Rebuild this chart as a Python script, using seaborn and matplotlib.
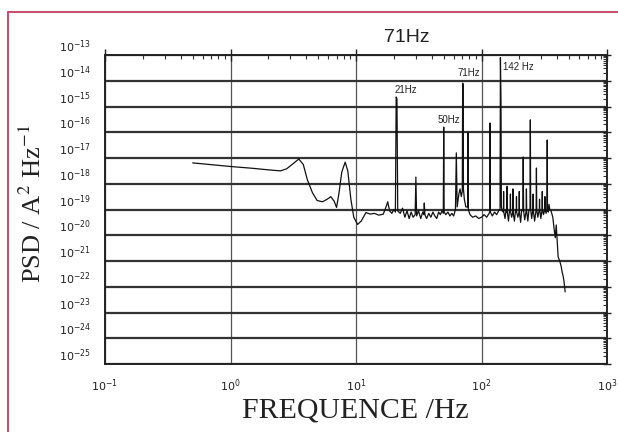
import numpy as np
import matplotlib
matplotlib.use("Agg")
import matplotlib.pyplot as plt
from matplotlib.lines import Line2D
from matplotlib.ticker import LogLocator, NullFormatter
import seaborn as sns

# Power spectral density trace: frequency (Hz) and log10 of PSD (A^2/Hz)
freq = [
    0.5, 0.7, 1.0, 1.5, 2.0, 2.5, 2.8, 3.1, 3.5, 3.8, 4.1, 4.5, 4.9, 5.4, 5.9,
    6.3, 6.7, 7.0, 7.3, 7.7, 8.2, 8.6, 9.1, 9.6, 10.3, 11.0, 12.0, 13.0, 14.0,
    15.2, 16.5, 17.2, 17.9, 18.5, 19.3, 20.0, 20.6, 20.9, 21.2, 21.5, 22.5,
    23.5, 24.5, 25.5, 26.5, 27.5, 28.5, 29.6, 30.0, 30.4, 31.5, 32.8, 34.0,
    34.7, 35.0, 35.4, 36.5, 38.0, 39.5, 41.0, 42.5, 44.0, 45.5, 47.0, 48.5,
    49.6, 50.0, 50.4, 52.0, 54.0, 56.0, 58.0, 60.0, 62.0, 63.0, 64.0, 66.0,
    67.5, 69.0, 70.3, 70.8, 71.3, 71.8, 73.0, 75.0, 77.5, 78.0, 78.5, 81.0,
    85.0, 90.0, 95.0, 100.0, 105.0, 110.0, 115.0, 116.5, 117.0, 117.5, 122.0,
    127.0, 132.0, 137.0, 140.5, 141.5, 143.0, 144.0, 146.0, 149.5, 150.0,
    150.5, 154.0, 157.0, 159.5, 160.0, 160.5, 164.0, 167.0, 169.5, 170.0,
    170.5, 174.0, 177.5, 178.0, 178.5, 183.0, 187.0, 189.5, 190.0, 190.5,
    195.0, 199.5, 200.0, 200.5, 205.0, 209.0, 213.5, 215.0, 216.5, 221.0,
    227.0, 228.0, 229.0, 234.0, 239.0, 243.5, 245.0, 246.5, 251.0, 257.0,
    258.0, 259.0, 265.0, 272.5, 274.0, 275.5, 281.0, 289.0, 290.0, 291.0,
    297.0, 304.0, 305.0, 306.0, 312.0, 319.0, 320.0, 321.0, 327.0, 332.5,
    334.0, 335.5, 340.0, 345.0, 350.0, 358.0, 370.0, 380.0, 387.0, 394.0,
    401.0, 408.0, 420.0, 431.0, 440.0, 448.0, 456.0, 464.0,
]
psd_log = [
    -17.19, -17.26, -17.33, -17.40, -17.46, -17.50, -17.42, -17.25, -17.04,
    -17.25, -17.85, -18.35, -18.65, -18.70, -18.60, -18.50, -18.68, -18.92,
    -18.40, -17.55, -17.16, -17.50, -18.60, -19.30, -19.58, -19.45, -19.12,
    -19.18, -19.15, -19.22, -19.18, -18.95, -18.70, -19.05, -19.15, -19.00,
    -19.10, -14.63, -14.70, -19.05, -19.15, -18.95, -19.30, -19.05, -19.35,
    -19.10, -19.30, -19.20, -17.74, -19.25, -19.05, -19.35, -19.10, -19.20,
    -18.75, -19.20, -19.35, -19.15, -19.30, -19.10, -19.25, -19.35, -19.10,
    -19.20, -19.05, -19.15, -15.80, -19.10, -19.20, -19.10, -19.25, -19.15,
    -19.25, -19.00, -16.80, -18.90, -18.40, -18.20, -18.50, -18.30, -14.09,
    -14.15, -18.20, -18.60, -18.90, -18.90, -16.00, -19.00, -19.20, -19.30,
    -19.25, -19.35, -19.30, -19.20, -19.30, -19.15, -19.10, -15.64, -19.10,
    -19.25, -19.10, -19.20, -19.05, -19.00, -13.10, -14.80, -18.90, -19.05,
    -19.10, -18.30, -19.10, -19.35, -19.00, -19.10, -18.10, -19.10, -19.45,
    -19.05, -19.10, -18.40, -19.10, -19.30, -19.10, -18.20, -19.10, -19.45,
    -19.00, -19.10, -18.50, -19.10, -19.30, -19.10, -18.30, -19.10, -19.50,
    -19.00, -19.05, -16.96, -19.05, -19.40, -19.05, -18.20, -19.05, -19.45,
    -19.00, -19.00, -15.52, -19.00, -19.35, -19.00, -18.40, -19.05, -19.45,
    -19.00, -17.39, -19.00, -19.30, -19.00, -18.60, -19.00, -19.35, -19.00,
    -18.30, -19.00, -19.20, -19.00, -18.50, -19.00, -19.15, -19.00, -16.30,
    -19.00, -19.10, -18.80, -19.00, -19.05, -19.30, -19.80, -20.10, -19.60,
    -20.20, -20.84, -21.00, -21.20, -21.45, -21.60, -21.85, -22.20,
]

# Peak annotations
peak_labels = ["21Hz", "50Hz", "71Hz", "142 Hz"]
label_freq = [24.9, 54.7, 79.0, 197.0]
label_log = [-14.36, -15.52, -13.70, -13.47]

# Axis decades
x_decades = [-1, 0, 1, 2, 3]
y_decades = list(range(-25, -12))

sns.set_theme(style="white")
plt.rcParams["font.family"] = ["DejaVu Sans"]

fig = plt.figure(figsize=(6.18, 4.32), dpi=100)
ax = fig.add_axes([105 / 618, 1 - 364 / 432, 502 / 618, 309 / 432])

psd = np.power(10.0, np.array(psd_log))
sns.lineplot(x=freq, y=psd, ax=ax, color="#111111", linewidth=0.9,
             estimator=None, sort=False)

ax.set_xscale("log")
ax.set_yscale("log")
ax.set_xlim(10.0 ** x_decades[0], 10.0 ** x_decades[-1])
ax.set_ylim(10.0 ** y_decades[0], 10.0 ** y_decades[-1])

ax.set_xticks([10.0 ** d for d in x_decades])
ax.set_xticklabels([f"$10^{{{d}}}$" for d in x_decades])
ax.set_yticks([10.0 ** d for d in y_decades])
ax.set_yticklabels([f"$10^{{{d}}}$" for d in y_decades])
ax.xaxis.set_minor_locator(LogLocator(base=10, subs=np.arange(2, 10), numticks=20))
ax.yaxis.set_minor_locator(LogLocator(base=10, subs=np.arange(2, 10), numticks=40))
ax.xaxis.set_minor_formatter(NullFormatter())
ax.yaxis.set_minor_formatter(NullFormatter())

ax.tick_params(axis="x", which="major", direction="inout", length=8, width=1.0,
               labelsize=8, pad=6, colors="#222222", top=True)
ax.tick_params(axis="x", which="minor", direction="in", length=3, width=0.8,
               top=True, colors="#333333")
ax.tick_params(axis="y", which="major", direction="inout", length=6, width=1.0,
               labelsize=8, pad=7, colors="#222222", right=True)
ax.tick_params(axis="y", which="minor", direction="in", length=3, width=0.8,
               right=True, colors="#333333")
for lab in ax.get_yticklabels():
    lab.set_verticalalignment("bottom")

ax.grid(True, which="major", axis="y", color="#333333", linewidth=1.6)
ax.grid(True, which="major", axis="x", color="#555555", linewidth=0.9)
ax.grid(False, which="minor")
for sp in ax.spines.values():
    sp.set_color("#222222")
    sp.set_linewidth(1.4)

for txt, f, lv in zip(peak_labels, label_freq, label_log):
    ax.text(f, 10.0 ** lv, txt, ha="center", va="center", fontsize=7,
            color="#222222", family="Liberation Sans")

fig.text(407 / 618, 1 - 37 / 432, "71Hz", ha="center", va="center",
         fontsize=14, color="#222222", family="Liberation Sans")
fig.text(33 / 618, 1 - 204 / 432, r"PSD / A$^2$ Hz$^{-1}$", rotation=90,
         ha="center", va="center", fontsize=19, color="#222222",
         family="Liberation Serif", math_fontfamily="stix")
fig.text(355 / 618, 1 - 410 / 432, "FREQUENCE /Hz", ha="center", va="center",
         fontsize=21.5, color="#222222", family="Liberation Serif")

# Page frame
frame = "#c9506f"
fig.add_artist(Line2D([8 / 618, 8 / 618], [0, 1 - 12 / 432], color=frame,
                      linewidth=1.5, transform=fig.transFigure))
fig.add_artist(Line2D([8 / 618, 1], [1 - 12 / 432, 1 - 12 / 432], color=frame,
                      linewidth=1.5, transform=fig.transFigure))

fig.savefig("out.png", dpi=100)
